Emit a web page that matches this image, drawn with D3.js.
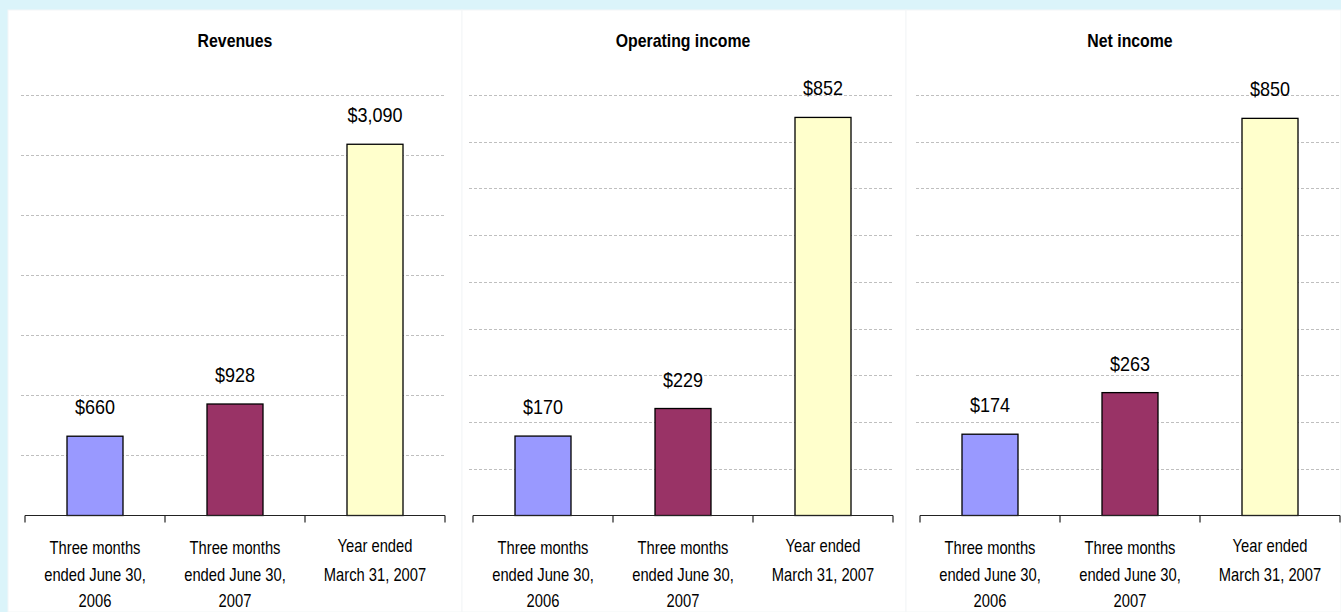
<!DOCTYPE html>
<html>
<head>
<meta charset="utf-8">
<script src="https://cdn.jsdelivr.net/npm/d3@7"></script>
<style>
  html, body { margin: 0; padding: 0; background: #dbf4fa; }
  svg { display: block; }
  text { font-family: "Liberation Sans", Arial, sans-serif; fill: #000; }
</style>
</head>
<body>
<div id="chart"></div>
<script>
// data
var categories = [
    ["Three months", "ended June 30,", "2006"],
    ["Three months", "ended June 30,", "2007"],
    ["Year ended", "March 31, 2007"]
];
var chartTitles = ["Revenues", "Operating income", "Net income"];
var revenues = [660, 928, 3090];
var operatingIncome = [170, 229, 852];
var netIncome = [174, 263, 850];
var yMax = [3500, 900, 900];
var yStep = [500, 100, 100];
var barColors = ["#9999ff", "#993366", "#ffffcc"];

var series = [revenues, operatingIncome, netIncome];

var width = 1341, height = 612;
var svg = d3.select("#chart").append("svg")
    .attr("width", width)
    .attr("height", height);

// white panels
var panelX = [8, 462, 906];
var panelW = [454, 444, 435];
panelX.forEach(function (px, i) {
    svg.append("rect")
        .attr("x", px).attr("y", 10)
        .attr("width", panelW[i]).attr("height", height - 10)
        .attr("fill", "#ffffff")
        .attr("stroke", "#f3f6f7")
        .attr("stroke-width", 1);
});

var axisLeft = [25, 473, 920];
var axisWidth = 420;
var plotTop = 95, plotBottom = 515.5;

series.forEach(function (values, i) {
    var g = svg.append("g").attr("transform", "translate(" + axisLeft[i] + ",0)");

    var x = d3.scaleBand()
        .domain(d3.range(values.length))
        .range([0, axisWidth])
        .paddingInner(0.6)
        .paddingOuter(0.3);
    var y = d3.scaleLinear()
        .domain([0, yMax[i]])
        .range([plotBottom, plotTop]);

    // dashed grid
    var gridVals = d3.range(yStep[i], yMax[i] + 1, yStep[i]);
    g.selectAll("line.grid")
        .data(gridVals)
        .enter().append("line")
        .attr("class", "grid")
        .attr("x1", -4)
        .attr("x2", axisWidth)
        .attr("y1", function (d) { return Math.round(y(d)) + 0.5; })
        .attr("y2", function (d) { return Math.round(y(d)) + 0.5; })
        .attr("stroke", "#bfbfbf")
        .attr("stroke-width", 1)
        .attr("stroke-dasharray", "3,2");

    // title
    g.append("text")
        .attr("transform", "translate(" + axisWidth / 2 + ",47) scale(0.88,1)")
        .attr("text-anchor", "middle")
        .attr("font-size", 18)
        .attr("font-weight", "bold")
        .text(chartTitles[i]);

    // bars
    g.selectAll("rect.bar")
        .data(values)
        .enter().append("rect")
        .attr("class", "bar")
        .attr("x", function (d, j) { return x(j); })
        .attr("y", function (d) { return y(d); })
        .attr("width", x.bandwidth())
        .attr("height", function (d) { return plotBottom - y(d); })
        .attr("fill", function (d, j) { return barColors[j]; })
        .attr("stroke", "#000")
        .attr("stroke-width", 1.3);

    // value labels
    g.selectAll("text.val")
        .data(values)
        .enter().append("text")
        .attr("class", "val")
        .attr("transform", function (d, j) {
            return "translate(" + (x(j) + x.bandwidth() / 2) + "," + (y(d) - 22) + ") scale(0.9,1)";
        })
        .attr("text-anchor", "middle")
        .attr("font-size", 20)
        .attr("fill", "#111")
        .text(function (d) { return "$" + d3.format(",")(d); });

    // axis line with ticks between categories
    var tickPos = d3.range(values.length + 1).map(function (k) { return k * axisWidth / values.length; });
    g.append("line")
        .attr("x1", 0).attr("x2", axisWidth)
        .attr("y1", plotBottom).attr("y2", plotBottom)
        .attr("stroke", "#222").attr("stroke-width", 1.2);
    g.selectAll("line.tick")
        .data(tickPos)
        .enter().append("line")
        .attr("class", "tick")
        .attr("x1", function (d) { return d; })
        .attr("x2", function (d) { return d; })
        .attr("y1", plotBottom).attr("y2", plotBottom + 7)
        .attr("stroke", "#222").attr("stroke-width", 1.2);

    // category labels
    var cat = g.selectAll("g.cat")
        .data(categories)
        .enter().append("g")
        .attr("class", "cat")
        .attr("transform", function (d, j) { return "translate(" + (x(j) + x.bandwidth() / 2) + ",0)"; });
    cat.each(function (lines) {
        var c = d3.select(this);
        lines.forEach(function (t, k) {
            c.append("text")
                .attr("transform", "translate(0," + (k === 0 && lines.length === 2 ? 552 : 554) + ") translate(0," + (k * 26.5) + ") scale(0.82,1)")
                .attr("text-anchor", "middle")
                .attr("font-size", 18)
                .attr("fill", "#111")
                .text(t);
        });
    });
});
</script>
</body>
</html>
